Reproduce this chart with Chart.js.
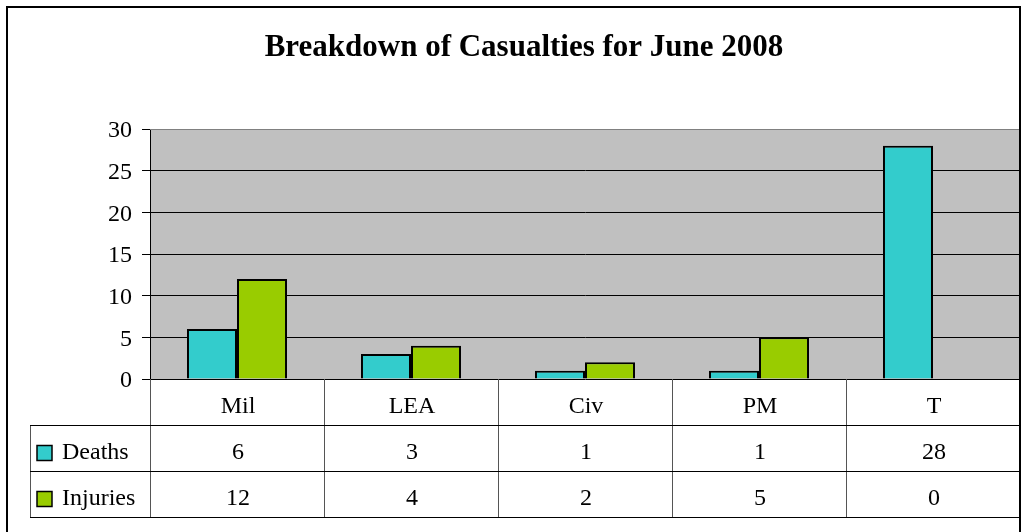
<!DOCTYPE html>
<html>
<head>
<meta charset="utf-8">
<script src="https://cdn.jsdelivr.net/npm/chart.js@4/dist/chart.umd.min.js"></script>
<style>
  html, body { margin: 0; padding: 0; background: #fff; }
  canvas { display: block; }
</style>
</head>
<body>
<canvas id="c" width="1028" height="532"></canvas>
<script>
const chartTitle = 'Breakdown of Casualties for June 2008';
const categories = ['Mil', 'LEA', 'Civ', 'PM', 'T'];
const seriesNames = ['Deaths', 'Injuries'];
const deaths = [6, 3, 1, 1, 28];
const injuries = [12, 4, 2, 5, 0];
const yTicks = [0, 5, 10, 15, 20, 25, 30];

const colors = ['#33CCCC', '#99CC00'];
const FONT = "'Liberation Serif', 'Times New Roman', serif";
const seriesValues = [deaths, injuries];

const tablePlugin = {
  id: 'tablePlugin',
  beforeDraw(chart) {
    const ctx = chart.ctx;
    const a = chart.chartArea;
    ctx.save();
    ctx.fillStyle = '#ffffff';
    ctx.fillRect(0, 0, chart.width, chart.height);
    ctx.fillStyle = '#C0C0C0';
    ctx.fillRect(a.left, a.top, a.right - a.left, a.bottom - a.top);
    ctx.restore();
  },
  afterDraw(chart) {
    const ctx = chart.ctx;
    const a = chart.chartArea;
    const xs = chart.scales.x;
    const n = categories.length;
    const colW = (a.right - a.left) / n;
    const rowH = 46;
    const legendLeft = 30;
    const top = a.bottom;
    ctx.save();
    // title
    ctx.fillStyle = '#000';
    ctx.font = 'bold 31px ' + FONT;
    ctx.textAlign = 'center';
    ctx.textBaseline = 'alphabetic';
    ctx.fillText(chartTitle, 524, 56);

    // plot border right/top grey
    ctx.strokeStyle = '#808080';
    ctx.lineWidth = 1;
    ctx.beginPath();
    ctx.moveTo(a.left, a.top + 0.5);
    ctx.lineTo(a.right - 0.5, a.top + 0.5);
    ctx.lineTo(a.right - 0.5, a.bottom);
    ctx.stroke();

    // table vertical lines
    ctx.strokeStyle = '#555555';
    for (let i = 0; i <= n; i++) {
      const x = Math.round(a.left + i * colW) + 0.5;
      ctx.beginPath();
      ctx.moveTo(x, top);
      ctx.lineTo(x, top + rowH * 3);
      ctx.stroke();
    }
    ctx.beginPath();
    ctx.moveTo(legendLeft + 0.5, top + rowH);
    ctx.lineTo(legendLeft + 0.5, top + rowH * 3);
    ctx.stroke();
    // horizontal lines
    ctx.strokeStyle = '#000000';
    for (let r = 1; r <= 3; r++) {
      const y = Math.round(top + r * rowH) + 0.5;
      ctx.beginPath();
      ctx.moveTo(legendLeft, y);
      ctx.lineTo(a.right, y);
      ctx.stroke();
    }

    ctx.fillStyle = '#000';
    ctx.font = '24px ' + FONT;
    ctx.textAlign = 'center';
    ctx.textBaseline = 'middle';
    categories.forEach((c, i) => {
      const cx = xs.getPixelForValue(i) + 1;
      ctx.fillText(c, cx, top + rowH / 2 + 5);
      seriesValues.forEach((vals, s) => {
        ctx.fillText(String(vals[i]), cx, top + rowH * (s + 1) + rowH / 2 + 5);
      });
    });
    // legend keys
    seriesNames.forEach((name, s) => {
      const cy = top + rowH * (s + 1) + rowH / 2 + 5;
      ctx.fillStyle = colors[s];
      ctx.fillRect(37, cy - 7.5, 15, 15);
      ctx.strokeStyle = '#000';
      ctx.lineWidth = 1.5;
      ctx.strokeRect(37, cy - 7.5, 15, 15);
      ctx.fillStyle = '#000';
      ctx.textAlign = 'left';
      ctx.fillText(name, 62, cy);
    });

    // outer border
    ctx.strokeStyle = '#000';
    ctx.lineWidth = 2;
    ctx.beginPath();
    ctx.moveTo(7, chart.height + 2);
    ctx.lineTo(7, 7);
    ctx.lineTo(1020, 7);
    ctx.lineTo(1020, chart.height + 2);
    ctx.stroke();
    ctx.restore();
  }
};

new Chart(document.getElementById('c'), {
  type: 'bar',
  data: {
    labels: categories,
    datasets: seriesNames.map((name, s) => ({
      label: name,
      data: seriesValues[s],
      backgroundColor: colors[s],
      borderColor: '#000000',
      borderWidth: 2,
      categoryPercentage: 0.575,
      barPercentage: 1.0
    }))
  },
  options: {
    responsive: false,
    animation: false,
    layout: { padding: { left: 0, right: 8, top: 0, bottom: 153 } },
    plugins: {
      legend: { display: false },
      tooltip: { enabled: false },
      title: {
        display: true,
        text: chartTitle,
        color: 'rgba(0,0,0,0)',
        font: { family: FONT, size: 30, weight: 'bold' },
        padding: { top: 29, bottom: 64 }
      }
    },
    scales: {
      x: { display: false },
      y: {
        min: 0,
        max: 30,
        afterBuildTicks(scale) { scale.ticks = yTicks.map(v => ({ value: v })); },
        afterFit(scale) { scale.width = 150; },
        ticks: {
          color: '#000',
          font: { family: FONT, size: 24 },
          padding: 10,
          labelOffset: 2
        },
        grid: {
          color: (c) => (c.tick && c.tick.value === 30) ? '#808080' : '#000000',
          lineWidth: 1,
          drawTicks: true,
          tickLength: 8,
          tickColor: '#000000'
        },
        border: { display: true, color: '#000000', width: 1 }
      }
    }
  },
  plugins: [tablePlugin]
});
</script>
</body>
</html>
